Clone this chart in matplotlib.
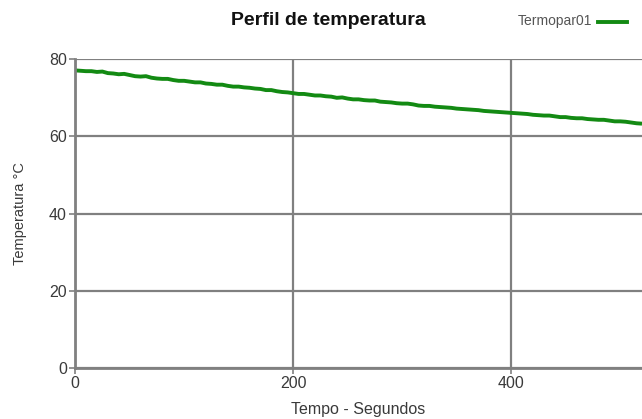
import matplotlib
matplotlib.use("Agg")
import matplotlib.pyplot as plt
from matplotlib.lines import Line2D

plt.rcParams['font.family'] = ['Liberation Sans', 'DejaVu Sans']

# temperature readings every 5 s
tempo = list(range(0, 525, 5))
termopar01 = [77.1, 77.0, 76.9, 76.9, 76.7, 76.8, 76.4, 76.3, 76.1, 76.2,
              75.9, 75.6, 75.5, 75.6, 75.2, 75.0, 74.9, 74.9, 74.6, 74.4,
              74.4, 74.2, 74.0, 74.0, 73.7, 73.6, 73.4, 73.4, 73.1, 72.9,
              72.9, 72.7, 72.6, 72.4, 72.3, 72.0, 72.0, 71.7, 71.5, 71.4,
              71.2, 71.0, 71.0, 70.8, 70.6, 70.6, 70.4, 70.3, 70.0, 70.1,
              69.8, 69.6, 69.6, 69.4, 69.3, 69.3, 69.0, 68.9, 68.8, 68.6,
              68.5, 68.5, 68.3, 68.0, 67.9, 67.9, 67.7, 67.6, 67.5, 67.4,
              67.2, 67.1, 67.0, 66.9, 66.8, 66.6, 66.5, 66.4, 66.3, 66.2,
              66.1, 66.0, 65.9, 65.8, 65.6, 65.5, 65.4, 65.4, 65.2, 65.0,
              65.0, 64.8, 64.7, 64.7, 64.5, 64.4, 64.3, 64.3, 64.1, 63.9,
              63.9, 63.8, 63.6, 63.4, 63.3]

grid_color = '#808080'
text_color = '#3a3a3a'
line_color = '#138a13'

fig = plt.figure(figsize=(6.42, 4.19), dpi=100)
ax = fig.add_axes([0.117, 0.1217, 0.883, 0.737])

ax.plot(tempo, termopar01, color=line_color, lw=2.8, solid_capstyle='butt')

ax.set_xlim(0, 520)
ax.set_ylim(0, 80)
ax.set_xticks([0, 200, 400])
ax.set_yticks([0, 20, 40, 60, 80])
ax.grid(True, color=grid_color, lw=1.6)
ax.set_axisbelow(True)

for side in ['top', 'right']:
    ax.spines[side].set_visible(False)
for side in ['left', 'bottom']:
    ax.spines[side].set_color(grid_color)
    ax.spines[side].set_linewidth(2)

ax.tick_params(colors=grid_color, labelcolor=text_color, labelsize=11.5,
               length=4, width=1.2, pad=2)

ax.set_xlabel('Tempo - Segundos', fontsize=11.5, color=text_color, labelpad=8)
ax.set_ylabel('Temperatura °C', fontsize=10.5, color=text_color, labelpad=16)

fig.text(0.511, 0.952, 'Perfil de temperatura', ha='center', va='center',
         fontsize=14, fontweight='bold', color='#111111')

# legend entry drawn on the figure, label first then the line sample
fig.text(0.923, 0.95, 'Termopar01', ha='right', va='center',
         fontsize=10, color='#555555')
fig.add_artist(Line2D([0.931, 0.977], [0.948, 0.948], color=line_color,
                      lw=2.8, transform=fig.transFigure))

fig.savefig('out.png', dpi=100)
